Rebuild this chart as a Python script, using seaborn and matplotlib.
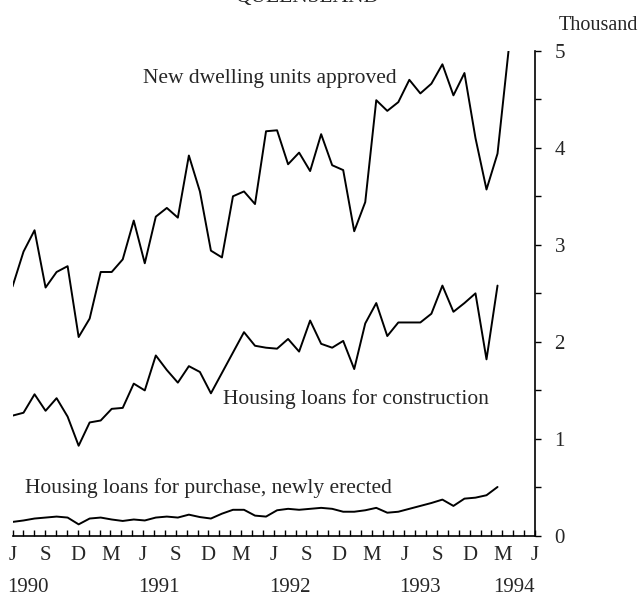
import numpy as np
import pandas as pd
import matplotlib
matplotlib.use("Agg")
import matplotlib.pyplot as plt
import matplotlib.transforms as mtransforms
import seaborn as sns

# ---- data (thousands), monthly from June 1990 ----
dwellings = [2.57, 2.93, 3.15, 2.56, 2.72, 2.78, 2.05, 2.24, 2.72, 2.72,
             2.85, 3.25, 2.81, 3.29, 3.38, 3.28, 3.92, 3.55, 2.94, 2.87,
             3.50, 3.55, 3.42, 4.17, 4.18, 3.83, 3.95, 3.76, 4.14, 3.82,
             3.77, 3.14, 3.44, 4.49, 4.38, 4.47, 4.70, 4.56, 4.66, 4.86,
             4.54, 4.77, 4.10, 3.57, 3.94, 5.00]
construction = [1.24, 1.27, 1.46, 1.29, 1.42, 1.23, 0.93, 1.17, 1.19, 1.31,
                1.32, 1.57, 1.50, 1.86, 1.71, 1.58, 1.75, 1.69, 1.47, 1.68,
                1.89, 2.10, 1.96, 1.94, 1.93, 2.03, 1.90, 2.22, 1.98, 1.94,
                2.01, 1.72, 2.19, 2.40, 2.06, 2.20, 2.20, 2.20, 2.29, 2.58,
                2.31, 2.40, 2.50, 1.82, 2.58]
purchase = [0.145, 0.16, 0.18, 0.19, 0.20, 0.19, 0.12, 0.18, 0.19, 0.17,
            0.155, 0.17, 0.16, 0.19, 0.20, 0.19, 0.22, 0.195, 0.18, 0.23,
            0.27, 0.27, 0.21, 0.20, 0.265, 0.28, 0.27, 0.28, 0.29, 0.28,
            0.25, 0.25, 0.265, 0.29, 0.24, 0.25, 0.28, 0.31, 0.34, 0.375,
            0.31, 0.385, 0.395, 0.42, 0.505]
month_letters = ["J", "S", "D", "M"] * 4 + ["J"]
year_labels = ["1990", "1991", "1992", "1993", "1994"]
y_ticks = [0, 1, 2, 3, 4, 5]

sns.set_style("white")
plt.rcParams["font.family"] = ["Liberation Serif", "DejaVu Serif"]

fig = plt.figure(figsize=(6.4, 5.96), dpi=100)
ax = fig.add_axes([12.5 / 640, 1 - 536 / 596, (535 - 12.5) / 640, (536 - 50.7) / 596])

XMAX = 47.4
for vals in (dwellings, construction, purchase):
    df = pd.DataFrame({"month": np.arange(len(vals)), "value": vals})
    sns.lineplot(data=df, x="month", y="value", ax=ax, color="black",
                 linewidth=1.4, estimator=None)

ax.set_xlim(0, XMAX)
ax.set_ylim(0, 5)
ax.set_xlabel("")
ax.set_ylabel("")

for s in ("top", "left"):
    ax.spines[s].set_visible(False)
for s in ("bottom", "right"):
    ax.spines[s].set_color("black")
    ax.spines[s].set_linewidth(1.2)

# x axis: monthly ticks, quarterly letters
ax.set_xticks(np.linspace(0, XMAX, 17))
ax.set_xticklabels(month_letters, fontsize=15)
ax.set_xticks(np.linspace(0, XMAX, 49), minor=True)
ax.tick_params(axis="x", which="both", direction="in", length=4.5, width=1,
               color="black", pad=7, bottom=True, top=False)

# y axis on right
ax.yaxis.tick_right()
ax.set_yticks(y_ticks)
ax.set_yticklabels([str(v) for v in y_ticks], fontsize=15)
ax.set_yticks(np.arange(0, 5.01, 0.5), minor=True)
ax.tick_params(axis="y", which="both", direction="out", length=4, width=1,
               color="black", pad=10, right=True, left=False)

# year labels
trans = mtransforms.blended_transform_factory(ax.transData, ax.transAxes)
year_pos = np.linspace(0, XMAX, 5)
year_y = -(592 - 536) / (536 - 50.7)
for i, (yp, yl) in enumerate(zip(year_pos, year_labels)):
    ha = "right" if i == len(year_labels) - 1 else "left"
    ax.text(yp - (0 if ha == "right" else 0.45), year_y, yl, transform=trans,
            ha=ha, va="baseline", fontsize=15)

# series labels
ax.text(11.84, 4.67, "New dwelling units approved", fontsize=15.5, va="baseline")
ax.text(19.07, 1.36, "Housing loans for construction", fontsize=15.5, va="baseline")
ax.text(1.13, 0.44, "Housing loans for purchase, newly erected", fontsize=15.5,
        va="baseline")

fig.text(559 / 640, 1 - 30 / 596, "Thousand", fontsize=14.5, ha="left", va="baseline")
fig.text(307 / 640, 1 - 2 / 596, "QUEENSLAND", fontsize=15.5, ha="center",
         va="baseline")

fig.savefig("out.png", dpi=100)
